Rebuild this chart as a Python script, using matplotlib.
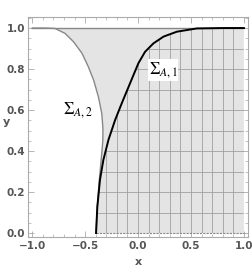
import numpy as np
import matplotlib.pyplot as plt
from matplotlib.patches import Polygon
from matplotlib.ticker import MultipleLocator

plt.rcParams['mathtext.fontset'] = 'stix'

# Sigma_A,1 boundary (black curve)
x1 = [-0.397, -0.385, -0.36, -0.328, -0.28, -0.217, -0.154, -0.076, 0.003, 0.066, 0.145,
      0.24, 0.366, 0.555, 0.807, 1.0]
y1 = [0.0, 0.128, 0.259, 0.356, 0.454, 0.551, 0.633, 0.730, 0.828, 0.884, 0.925,
      0.958, 0.982, 0.998, 1.0, 1.0]

# Sigma_A,2 boundary (gray curve)
x2 = [-1.0, -0.88, -0.785, -0.69, -0.61, -0.53, -0.47, -0.42, -0.375, -0.343, -0.332,
      -0.333, -0.343, -0.366, -0.385, -0.397]
y2 = [1.0, 1.0, 0.998, 0.974, 0.933, 0.877, 0.811, 0.746, 0.665, 0.584, 0.51,
      0.45, 0.389, 0.259, 0.128, 0.0]

grid_x = np.round(np.arange(-0.3, 1.0, 0.1), 2)
grid_y = np.round(np.arange(0.1, 1.0, 0.1), 2)

tick_col = '#555555'
fig = plt.figure(figsize=(2.53, 2.70), dpi=100)
ax = fig.add_axes([0.1107, 0.1222, 0.870, 0.815])

# shaded region right of the gray curve
ax.fill(list(x2) + [1.0, 1.0], list(y2) + [0.0, 1.0], color='#e4e4e4', lw=0, zorder=1)

# grid only inside Sigma_A,1
clip = Polygon(list(zip(x1, y1)) + [(1.0, 0.0)], closed=True, transform=ax.transData)
vl = ax.vlines(grid_x, 0, 1, colors='#a0a0a0', lw=0.6, zorder=2)
hl = ax.hlines(grid_y, -0.5, 1, colors='#a0a0a0', lw=0.6, zorder=2)
vl.set_clip_path(clip)
hl.set_clip_path(clip)

ax.plot([-1, 1], [1, 1], color='#888888', lw=1.0, zorder=3)
ax.plot(x2, y2, color='#888888', lw=1.0, zorder=3)
ax.plot([x1[0], 1.0], [0, 0], color='#888888', lw=0.8, ls=(0, (2, 1)), zorder=3)
ax.plot(x1, y1, color='black', lw=1.4, zorder=4)

ax.text(-0.567, 0.60, r'$\Sigma_{A,2}$', fontsize=12, ha='center', va='center', zorder=5)
ax.text(0.236, 0.795, r'$\Sigma_{A,1}$', fontsize=12, ha='center', va='center', zorder=5,
        bbox=dict(facecolor='white', edgecolor='none', pad=0.5))

ax.set_xlim(-1.04, 1.04)
ax.set_ylim(-0.0195, 1.054)
ax.xaxis.set_major_locator(MultipleLocator(0.5))
ax.xaxis.set_minor_locator(MultipleLocator(0.1))
ax.yaxis.set_major_locator(MultipleLocator(0.2))
ax.yaxis.set_minor_locator(MultipleLocator(0.05))
ax.xaxis.set_major_formatter(plt.FuncFormatter(lambda v, p: f'{v:.1f}'.replace('-', '\u2212')))
ax.yaxis.set_major_formatter(plt.FuncFormatter(lambda v, p: f'{v:.1f}'))
ax.tick_params(which='both', direction='in', top=True, right=True, color='#aaaaaa',
               labelcolor=tick_col, labelsize=7.5)
ax.tick_params(axis='x', pad=3)
ax.tick_params(axis='y', pad=2)
ax.tick_params(which='major', length=4, width=0.6)
ax.tick_params(which='minor', length=2, width=0.5)
for lab in ax.get_xticklabels() + ax.get_yticklabels():
    lab.set_fontweight('bold')
for s in ax.spines.values():
    s.set_color('#aaaaaa')
    s.set_linewidth(0.8)

ax.set_xlabel('x', color=tick_col, fontweight='bold', fontsize=8, labelpad=4)
ax.set_ylabel('y', color=tick_col, fontweight='bold', fontsize=8, rotation=0, labelpad=8)
ax.yaxis.set_label_coords(-0.1, 0.5)

fig.savefig('out.png', dpi=100)
